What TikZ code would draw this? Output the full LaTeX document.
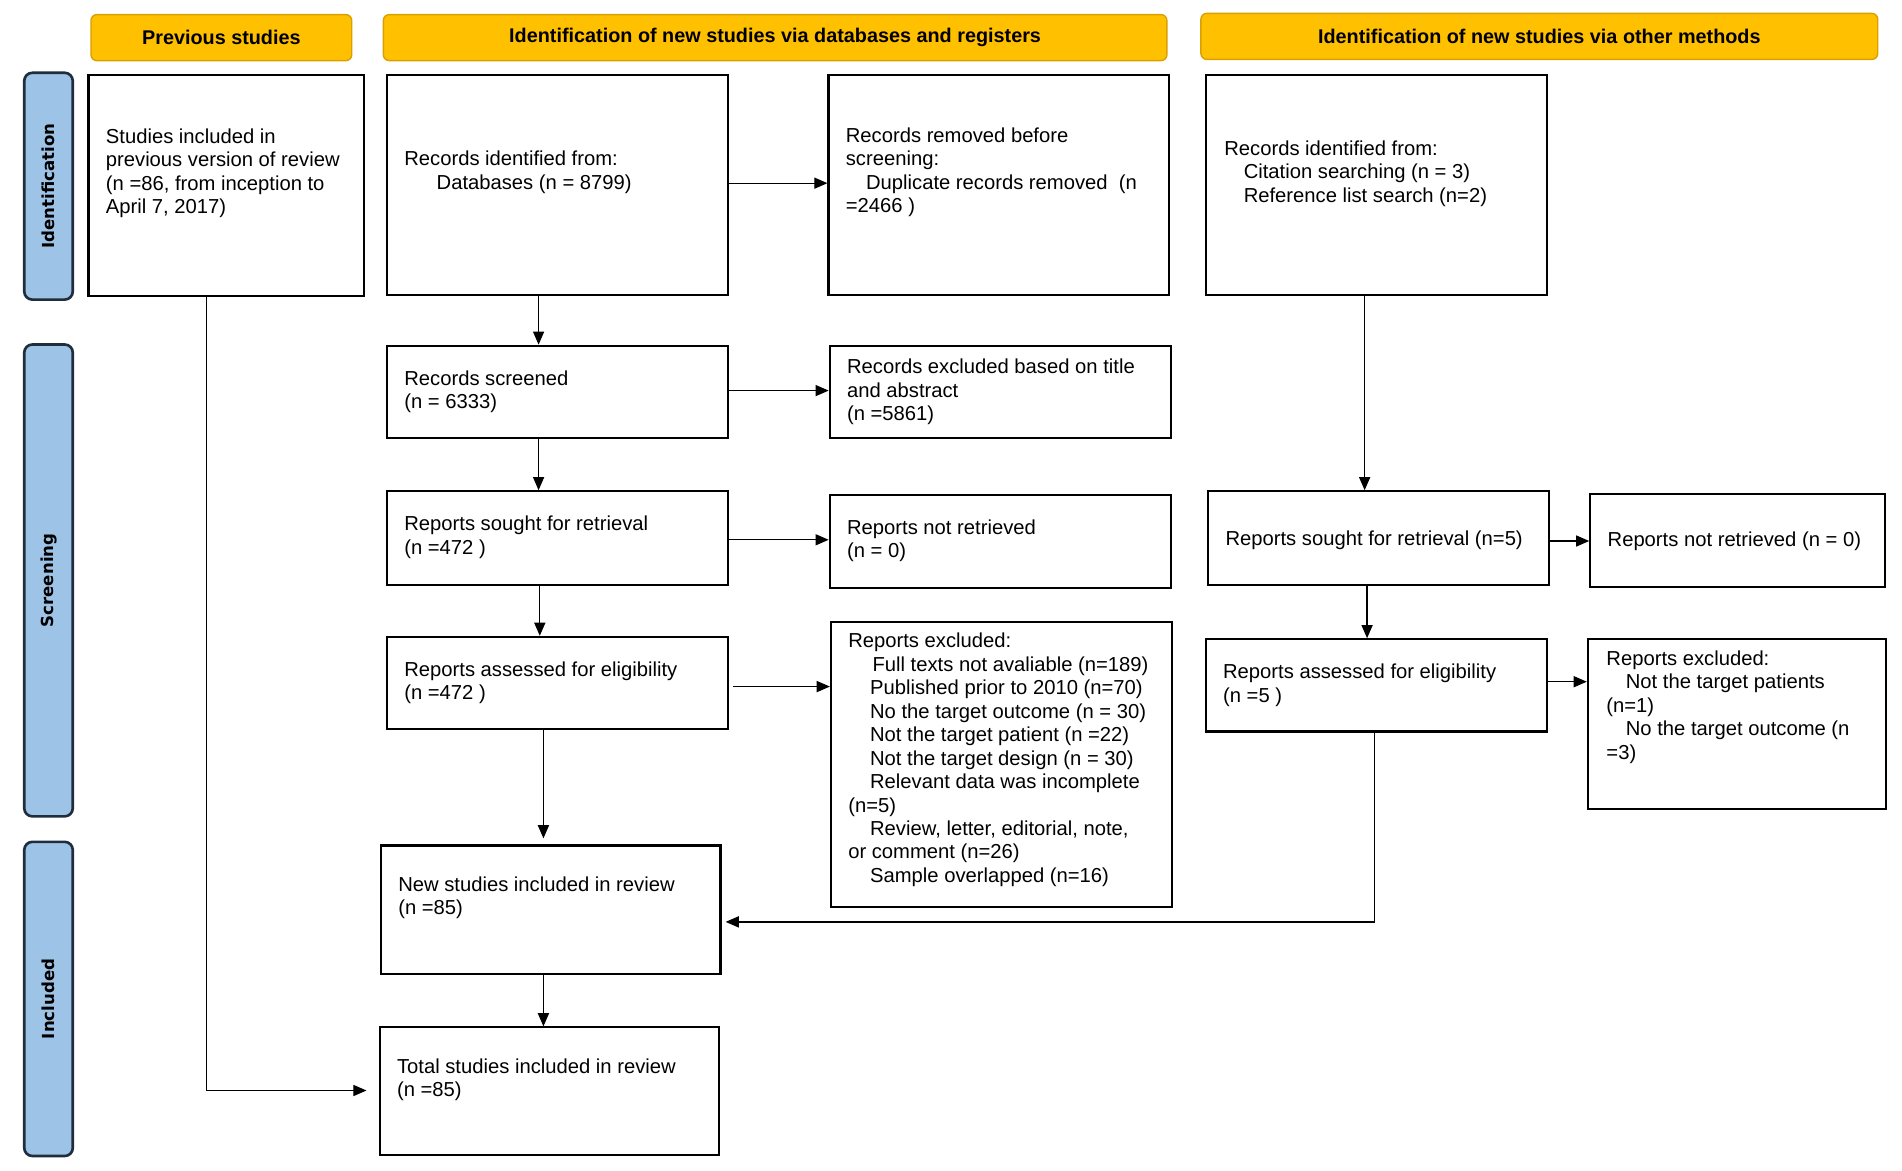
\documentclass[tikz,border=0pt]{standalone}
\usepackage{fontspec}
\setmainfont{Liberation Sans}
\newfontfamily\sidefont{DejaVu Sans}
\usetikzlibrary{arrows.meta,fit,calc}
\definecolor{hdrfill}{HTML}{FFC000}
\definecolor{hdrdraw}{HTML}{D9A000}
\definecolor{sidefill}{HTML}{9DC3E6}
\definecolor{sidedraw}{HTML}{1F2D3D}
\begin{document}
\begin{tikzpicture}[x=0.6pt,y=-0.6pt,
  box/.style={draw=black, line width=1.05pt, inner sep=0pt, fill=white},
  txt/.style={anchor=west, align=left, inner sep=0pt, font=\fontsize{10}{11.6}\selectfont},
  hdr/.style={draw=hdrdraw, fill=hdrfill, rounded corners=3pt, line width=0.7pt, inner sep=0pt},
  hdrtxt/.style={inner sep=0pt, font=\fontsize{9.8}{12}\selectfont\bfseries},
  side/.style={draw=sidedraw, fill=sidefill, rounded corners=4pt, line width=1.3pt, inner sep=0pt},
  sidelbl/.style={rotate=90, font=\sidefont\fontsize{8.2}{10}\selectfont\bfseries, inner sep=0pt},
  arr/.style={-{Triangle[length=6.5pt,width=5.5pt]}, line width=0.6pt},
  ]
\useasboundingbox (0,0) rectangle (1568,965);
% headers
\node[hdr, fit={(75,12) (290,50)}] (h1) {};
\node[hdrtxt] (h1t) at (h1.center) {Previous studies};
\node[hdr, fit={(316,12) (962,50)}] (h2) {};
\node[hdrtxt] (h2t) at (h2.center) {Identification of new studies via databases and registers};
\node[hdr, fit={(990,11) (1548,49)}] (h3) {};
\node[hdrtxt] (h3t) at (h3.center) {Identification of new studies via other methods};
% side bars
\node[side, fit={(20,60) (60,247)}] (s1) {};
\node[sidelbl] (s1l) at (s1.center) {Identification};
\node[side, fit={(20,284) (60,673)}] (s2) {};
\node[sidelbl] (s2l) at (s2.center) {Screening};
\node[side, fit={(20,694) (60,953)}] (s3) {};
\node[sidelbl] (s3l) at (s3.center) {Included};
% boxes
\node[box, fit={(73,62) (300,244)}] (prev) {};
\node[txt] (prevt) at (87,143) {Studies included in\\previous version of review\\(n =86, from inception to\\April 7, 2017)};
\node[box, fit={(319,62) (600,243)}] (db) {};
\node[txt] (dbt) at (333,142) {Records identified from:\\\hspace*{16pt}Databases (n = 8799)};
\node[box, fit={(683,62) (964,243)}] (removed) {};
\node[txt] (removedt) at (697,142) {Records removed before\\screening:\\\hspace*{10pt}Duplicate records removed\ \ (n\\=2466 )};
\node[box, fit={(994,62) (1275,243)}] (other) {};
\node[txt] (othert) at (1009,143) {Records identified from:\\\hspace*{9.6pt}Citation searching (n = 3)\\\hspace*{9.6pt}Reference list search (n=2)};
\node[box, fit={(319,285) (600,361)}] (screened) {};
\node[txt] (screenedt) at (333,323) {Records screened\\(n = 6333)};
\node[box, fit={(684,285) (965,361)}] (exclt) {};
\node[txt] (excltt) at (698,323) {Records excluded based on title\\and abstract\\(n =5861)};
\node[box, fit={(319,405) (600,482)}] (sought) {};
\node[txt] (soughtt) at (333,443) {Reports sought for retrieval\\(n =472 )};
\node[box, fit={(684,408) (965,485)}] (notret) {};
\node[txt] (notrett) at (698,446) {Reports not retrieved\\(n = 0)};
\node[box, fit={(996,405) (1277,482)}] (sought2) {};
\node[txt] (sought2t) at (1010,445) {Reports sought for retrieval (n=5)};
\node[box, fit={(1311,407) (1554,484)}] (notret2) {};
\node[txt] (notret2t) at (1325,446) {Reports not retrieved (n = 0)};
\node[box, fit={(319,525) (600,601)}] (assessed) {};
\node[txt] (assessedt) at (333,563) {Reports assessed for eligibility\\(n =472 )};
\node[box, fit={(685,513) (966,748)}] (excl) {};
\node[txt] (exclt2) at (699,626.5) {Reports excluded:\\\hspace*{12pt}Full texts not avaliable (n=189)\\\hspace*{10.8pt}Published prior to 2010 (n=70)\\\hspace*{10.8pt}No the target outcome (n = 30)\\\hspace*{10.8pt}Not the target patient (n =22)\\\hspace*{10.8pt}Not the target design (n = 30)\\\hspace*{10.8pt}Relevant data was incomplete\\(n=5)\\\hspace*{10.8pt}Review, letter, editorial, note,\\or comment (n=26)\\\hspace*{10.8pt}Sample overlapped (n=16)};
\node[box, fit={(994,527) (1275,603)}] (assessed2) {};
\node[txt] (assessed2t) at (1008,565) {Reports assessed for eligibility\\(n =5 )};
\node[box, fit={(1309,527) (1555,667)}] (excl2) {};
\node[txt] (excl2t) at (1324,583) {Reports excluded:\\\hspace*{9.6pt}Not the target patients\\(n=1)\\\hspace*{9.6pt}No the target outcome (n\\=3)};
\node[box, fit={(314,697) (594,803)}] (new) {};
\node[txt] (newt) at (328,740) {New studies included in review\\(n =85)};
\node[box, fit={(313,847) (593,952)}] (total) {};
\node[txt] (totalt) at (327,890) {Total studies included in review\\(n =85)};
% helper coordinates
\coordinate (xa) at (444,0);
\coordinate (xb) at (445,0);
\coordinate (xc) at (448,0);
\coordinate (xd) at (1125,0);
\coordinate (xe) at (1127,0);
\coordinate (xf) at (1133,0);
\coordinate (xg) at (170,0);
\coordinate (ya) at (0,760);
\coordinate (yb) at (0,899);
\coordinate (y1) at (0,151);
\coordinate (y2) at (0,322);
\coordinate (y3) at (0,445);
\coordinate (y4) at (0,566);
\coordinate (y5) at (0,446);
\coordinate (y6) at (0,562);
% vertical connectors
\draw[arr] (db.south -| xa) -- (screened.north -| xa);
\draw[arr] (screened.south -| xa) -- (sought.north -| xa);
\draw[arr] (sought.south -| xb) -- (assessed.north -| xb);
\draw[arr, shorten >=3pt] (assessed.south -| xc) -- (new.north -| xc);
\draw[arr] (new.south -| xc) -- (total.north -| xc);
\draw[arr] (other.south -| xd) -- (sought2.north -| xd);
\draw[arr] (sought2.south -| xe) -- (assessed2.north -| xe);
\draw[arr, shorten >=2pt] (assessed2.south -| xf) |- (new.east |- ya);
\draw[arr, shorten >=6pt] (prev.south -| xg) |- (total.west |- yb);
% horizontal connectors
\draw[arr] (db.east |- y1) -- (removed.west |- y1);
\draw[arr] (screened.east |- y2) -- (exclt.west |- y2);
\draw[arr] (sought.east |- y3) -- (notret.west |- y3);
\draw[arr, shorten <=2pt] (assessed.east |- y4) -- (excl.west |- y4);
\draw[arr] (sought2.east |- y5) -- (notret2.west |- y5);
\draw[arr] (assessed2.east |- y6) -- (excl2.west |- y6);
\end{tikzpicture}
\end{document}
